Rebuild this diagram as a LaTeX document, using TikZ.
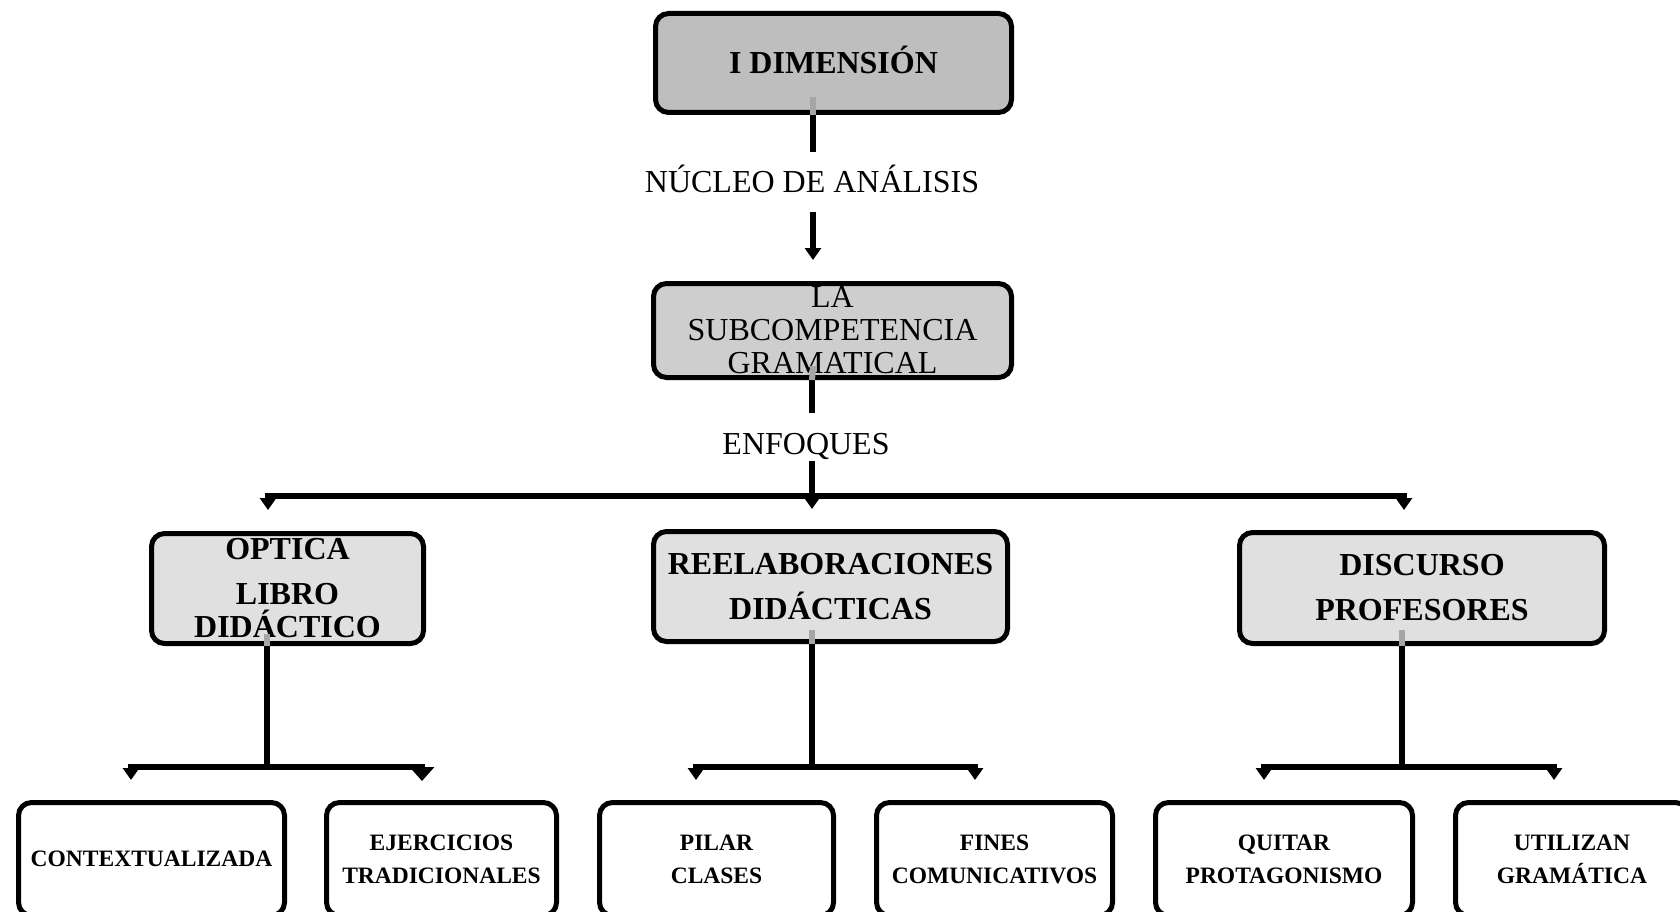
\documentclass[tikz,border=0pt]{standalone}
\usepackage{fontspec}
\setmainfont{Liberation Serif}
\usetikzlibrary{arrows.meta}
\definecolor{fillA}{RGB}{190,190,190}
\definecolor{fillB}{RGB}{206,206,206}
\definecolor{fillC}{RGB}{224,224,224}
\definecolor{stubgray}{RGB}{165,165,165}
\begin{document}
\begin{tikzpicture}[x=1pt,y=-1pt,
  box/.style={draw=black, line width=5pt, rounded corners=13pt, align=center,
              inner sep=0pt},
  conn/.style={line width=6pt},
  tip/.style={-{Triangle[length=12pt,width=16pt]}},
  widetip/.style={-{Triangle[length=14pt,width=24pt]}},
  stub/.style={line width=6pt, draw=stubgray},
  reg/.style={font=\fontsize{32}{33}\selectfont},
  regone/.style={reg, text height=22pt, text depth=0pt, inner sep=0pt},
  big/.style={font=\fontsize{32}{45}\bfseries\selectfont},
  bigtight/.style={font=\fontsize{32}{33}\bfseries\selectfont},
  small/.style={font=\fontsize{23.5}{33}\bfseries\selectfont},
  leaf/.style={box, fill=white, small, minimum height=113pt},
]
\useasboundingbox (0,0) rectangle (1680,912);
\clip (0,0) rectangle (1680,912);

% --- top of the hierarchy
\node[box, fill=fillA, minimum width=356pt, minimum height=99pt, big,
      text height=22pt, text depth=0pt] (dim) at (833.5,63) {I DIMENSIÓN};
\node[regone] (nucleo) at (812,182) {NÚCLEO DE ANÁLISIS};
\node[box, fill=fillB, minimum width=358pt, minimum height=94pt, reg]
      (sub) at (832.5,330.5) {LA\\SUBCOMPETENCIA\\GRAMATICAL};
\node[regone] (enf) at (806,443) {ENFOQUES};

% --- three approaches
\node[box, fill=fillC, minimum width=272pt, minimum height=110pt, bigtight]
      (opt) at (287.5,588.5) {OPTICA\\[12pt]LIBRO\\DIDÁCTICO};
\node[box, fill=fillC, minimum width=354pt, minimum height=110pt, big]
      (ree) at (830.5,586.5) {REELABORACIONES\\DIDÁCTICAS};
\node[box, fill=fillC, minimum width=365pt, minimum height=111pt, big]
      (dis) at (1422,588) {DISCURSO\\PROFESORES};

% --- leaves
\node[leaf, minimum width=266pt] (ctx) at (151.5,859) {CONTEXTUALIZADA};
\node[leaf, minimum width=230pt] (eje) at (441.5,859) {EJERCICIOS\\TRADICIONALES};
\node[leaf, minimum width=234pt] (pil) at (716.5,859) {PILAR\\CLASES};
\node[leaf, minimum width=236pt] (fin) at (994.5,859) {FINES\\COMUNICATIVOS};
\node[leaf, minimum width=257pt] (qui) at (1284,859) {QUITAR\\PROTAGONISMO};
\node[leaf, minimum width=233pt] (uti) at (1572,859) {UTILIZAN\\GRAMÁTICA};

% --- free ends of the connectors
\coordinate (n1) at (813,152);
\coordinate (n2) at (813,212);
\coordinate (n3) at (813,260);
\coordinate (e1) at (812,413);
\coordinate (e2) at (812,461);
\coordinate (hub) at (812,496);
\coordinate (hubtip) at (812,509);
\coordinate (ta) at (268,510);
\coordinate (tc) at (1404,510);

\coordinate (ja) at (267,767);
\coordinate (jb) at (812,767);
\coordinate (jc) at (1402,767);
\coordinate (tctx) at (131,780);
\coordinate (teje) at (422,781);
\coordinate (tpil) at (696,780);
\coordinate (tfin) at (975,780);
\coordinate (tqui) at (1264,780);
\coordinate (tuti) at (1554,780);

% --- connectors
\draw[conn] (dim.south -| n1) -- (n1);
\draw[conn, tip] (n2) -- (n3);
\draw[conn] (sub.south -| e1) -- (e1);
\draw[conn, tip] (e2) -- (hubtip);
\draw[conn, tip] (hub) -| (ta);
\draw[conn, tip] (hub) -| (tc);

\draw[conn] (opt.south -| ja) -- (ja);
\draw[conn, tip] (ja) -| (tctx);
\draw[conn, widetip] (ja) -| (teje);
\draw[conn] (ree.south -| jb) -- (jb);
\draw[conn, tip] (jb) -| (tpil);
\draw[conn, tip] (jb) -| (tfin);
\draw[conn] (dis.south -| jc) -- (jc);
\draw[conn, tip] (jc) -| (tqui);
\draw[conn, tip] (jc) -| (tuti);

% --- connector ends showing through the boxes
\draw[stub] (813,97) -- (dim.south -| n1);
\draw[stub] (813,366) -- (sub.south -| e1);
\draw[stub] (267,634) -- (opt.south -| ja);
\draw[stub] (812,630) -- (ree.south -| jb);
\draw[stub] (1402,630) -- (dis.south -| jc);
\end{tikzpicture}
\end{document}
